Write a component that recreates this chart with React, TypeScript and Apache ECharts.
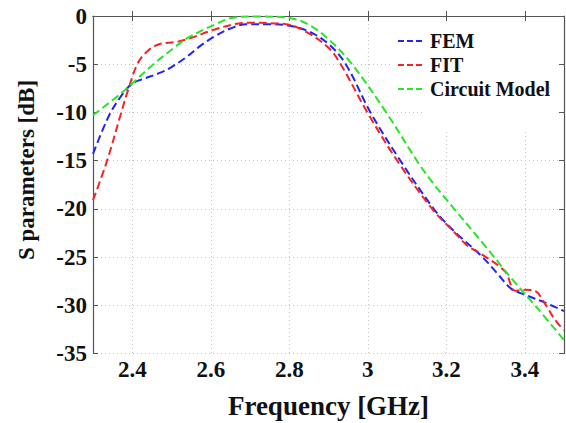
import React, { useEffect, useRef } from "react";
import * as echarts from "echarts";

const femFreq = [2.30, 2.34, 2.37, 2.40, 2.43, 2.47, 2.50, 2.54, 2.57, 2.61, 2.65, 2.69, 2.75, 2.80, 2.85, 2.90, 2.944, 3.007, 3.083, 3.168, 3.20, 3.23, 3.29, 3.33, 3.366, 3.40, 3.45, 3.50];
const femDb = [-14.3, -10.4, -8.4, -7.0, -6.5, -5.9, -5.3, -4.2, -3.2, -2.1, -1.3, -0.85, -0.85, -1.0, -1.6, -2.9, -5.0, -10.0, -15.0, -20.0, -21.5, -22.7, -24.9, -26.7, -28.3, -28.9, -29.7, -30.6];

const fitFreq = [2.30, 2.336, 2.372, 2.39, 2.414, 2.44, 2.47, 2.51, 2.54, 2.61, 2.66, 2.70, 2.75, 2.80, 2.85, 2.90, 2.931, 2.999, 3.075, 3.164, 3.22, 3.256, 3.282, 3.35, 3.375, 3.40, 3.426, 3.451, 3.477, 3.50];
const fitDb = [-19.1, -15.0, -10.0, -7.6, -4.9, -3.6, -2.9, -2.7, -2.4, -1.4, -0.85, -0.7, -0.75, -0.9, -1.8, -3.3, -5.0, -10.0, -15.0, -20.0, -22.4, -23.9, -24.5, -26.5, -28.5, -28.4, -28.5, -29.8, -31.5, -32.6];

const circuitFreq = [2.30, 2.372, 2.397, 2.457, 2.50, 2.54, 2.61, 2.66, 2.72, 2.80, 2.85, 2.90, 2.96, 3.047, 3.125, 3.16, 3.21, 3.30, 3.37, 3.43, 3.50];
const circuitDb = [-10.3, -8.0, -7.1, -4.9, -3.5, -2.3, -0.9, -0.15, -0.05, -0.2, -0.9, -2.4, -5.0, -10.0, -15.0, -17.0, -19.5, -23.9, -27.4, -30.2, -33.6];

const seriesNames = ["FEM", "FIT", "Circuit Model"];
const seriesColors = ["#2323f5", "#f52323", "#27e627"];

const xMin = 2.3;
const xMax = 3.5;
const yMin = -35;
const yMax = 0;
const yStep = 5;

const xTitle = "Frequency [GHz]";
const yTitle = "S parameters [dB]";

const FONT = "'Liberation Serif', 'Times New Roman', serif";
const DASH_ICON = "path://M0,0h6v2h-6z M9,0h6v2h-6z M18,0h6v2h-6z";

function pairs(xs: number[], ys: number[]) {
  return xs.map((x, i) => [x, ys[i]]);
}

export default function App() {
  const ref = useRef<HTMLDivElement>(null);
  useEffect(() => {
    if (!ref.current) return;
    const chart = echarts.init(ref.current, undefined, { renderer: "svg" });
    const axisColor = "#555";
    const gridLine = { show: true, lineStyle: { color: "#c4c4c4", type: [1, 3] as any, width: 1 } };
    const datasets = [pairs(femFreq, femDb), pairs(fitFreq, fitDb), pairs(circuitFreq, circuitDb)];
    chart.setOption({
      animation: false,
      backgroundColor: "#fff",
      grid: { left: 93, right: 2, top: 16, bottom: 69.5, containLabel: false, outerBoundsMode: "none" },
      xAxis: [
        {
          type: "value",
          min: xMin,
          max: xMax,
          splitNumber: 6,
          name: xTitle,
          nameLocation: "middle",
          nameGap: 39,
          nameTextStyle: { fontFamily: FONT, fontWeight: "bold", fontSize: 27, color: "#111" },
          axisLine: { show: true, lineStyle: { color: axisColor, width: 1.2 } },
          axisTick: { show: true, inside: true, length: 5, lineStyle: { color: axisColor } },
          axisLabel: { showMinLabel: false, showMaxLabel: false, fontFamily: FONT, fontWeight: "bold", fontSize: 23, color: "#111", margin: 4 },
          splitLine: gridLine,
        },
        {
          type: "value",
          position: "top",
          min: xMin,
          max: xMax,
          splitNumber: 6,
          axisLine: { show: true, onZero: false, lineStyle: { color: axisColor, width: 1.2 } },
          axisTick: { show: true, inside: true, length: 5, lineStyle: { color: axisColor } },
          axisLabel: { show: false },
          splitLine: { show: false },
        },
      ],
      yAxis: [
        {
          type: "value",
          min: yMin,
          max: yMax,
          interval: yStep,
          axisLine: { show: true, lineStyle: { color: axisColor, width: 1.2 } },
          axisTick: { show: true, inside: true, length: 5, lineStyle: { color: axisColor } },
          axisLabel: { fontFamily: FONT, fontWeight: "bold", fontSize: 23, color: "#111", margin: 6 },
          splitLine: gridLine,
        },
        {
          type: "value",
          position: "right",
          min: yMin,
          max: yMax,
          interval: yStep,
          axisLine: { show: true, onZero: false, lineStyle: { color: axisColor, width: 1.2 } },
          axisTick: { show: true, inside: true, length: 5, lineStyle: { color: axisColor } },
          axisLabel: { show: false },
          splitLine: { show: false },
        },
      ],
      graphic: [
        { type: "rect", z: 1, shape: { x: 390, y: 22, width: 168, height: 84 }, style: { fill: "#fff" } },
        { type: "rect", z: 1, shape: { x: 422, y: 100, width: 136, height: 29 }, style: { fill: "#fff" } },
        {
          type: "text",
          z: 5,
          x: 26,
          y: 170,
          rotation: Math.PI / 2,
          style: { text: yTitle, fontFamily: FONT, fontWeight: "bold", fontSize: 23, fill: "#111", align: "center", verticalAlign: "middle" },
        },
      ],
      legend: {
        orient: "vertical",
        left: 398,
        top: 31,
        icon: DASH_ICON,
        itemWidth: 24,
        itemHeight: 2.5,
        itemGap: 4,
        padding: 0,
        data: seriesNames,
        textStyle: { fontFamily: FONT, fontWeight: "bold", fontSize: 20, color: "#111", lineHeight: 20, padding: [0, 0, 0, 3] },
      },
      series: seriesNames.map((name, i) => ({
        name,
        type: "line",
        data: datasets[i],
        smooth: 0.35,
        symbol: "none",
        z: 3,
        lineStyle: { color: seriesColors[i], width: 2, type: [8, 4] },
        itemStyle: { color: seriesColors[i] },
      })),
    });
    return () => chart.dispose();
  }, []);
  return <div ref={ref} style={{ position: "fixed", left: 0, top: 0, width: 566, height: 423 }} />;
}
